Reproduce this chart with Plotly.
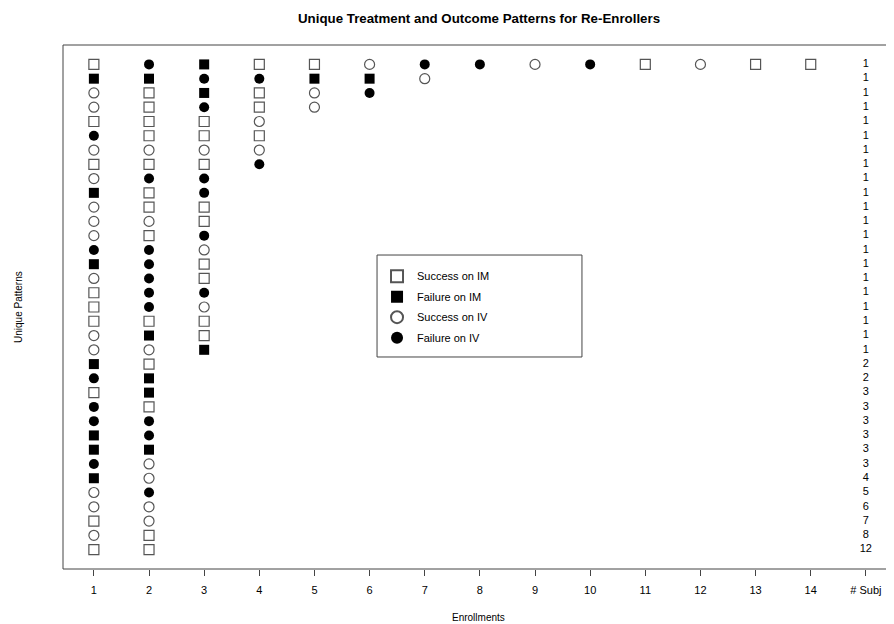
import plotly.graph_objects as go

# Codes: SIM = Success on IM, FIM = Failure on IM, SIV = Success on IV, FIV = Failure on IV
patterns = [
    ["SIM", "FIV", "FIM", "SIM", "SIM", "SIV", "FIV", "FIV", "SIV", "FIV", "SIM", "SIV", "SIM", "SIM"],
    ["FIM", "FIM", "FIV", "FIV", "FIM", "FIM", "SIV"],
    ["SIV", "SIM", "FIM", "SIM", "SIV", "FIV"],
    ["SIV", "SIM", "FIV", "SIM", "SIV"],
    ["SIM", "SIM", "SIM", "SIV"],
    ["FIV", "SIM", "SIM", "SIM"],
    ["SIV", "SIV", "SIV", "SIV"],
    ["SIM", "SIM", "SIM", "FIV"],
    ["SIV", "FIV", "FIV"],
    ["FIM", "SIM", "FIV"],
    ["SIV", "SIM", "SIM"],
    ["SIV", "SIV", "SIM"],
    ["SIV", "SIM", "FIV"],
    ["FIV", "FIV", "SIV"],
    ["FIM", "FIV", "SIM"],
    ["SIV", "FIV", "SIM"],
    ["SIM", "FIV", "FIV"],
    ["SIM", "FIV", "SIV"],
    ["SIM", "SIM", "SIM"],
    ["SIV", "FIM", "SIM"],
    ["SIV", "SIV", "FIM"],
    ["FIM", "SIM"],
    ["FIV", "FIM"],
    ["SIM", "FIM"],
    ["FIV", "SIM"],
    ["FIV", "FIV"],
    ["FIM", "FIV"],
    ["FIM", "FIM"],
    ["FIV", "SIV"],
    ["FIM", "SIV"],
    ["SIV", "FIV"],
    ["SIV", "SIV"],
    ["SIM", "SIV"],
    ["SIV", "SIM"],
    ["SIM", "SIM"],
]
n_subj = [1] * 21 + [2, 2, 3, 3, 3, 3, 3, 3, 4, 5, 6, 7, 8, 12]

tick_vals = list(range(1, 16))
tick_text = [str(i) for i in range(1, 15)] + ["# Subj"]

categories = ["SIM", "FIM", "SIV", "FIV"]
cat_names = {"SIM": "Success on IM", "FIM": "Failure on IM",
             "SIV": "Success on IV", "FIV": "Failure on IV"}
cat_symbol = {"SIM": "square-open", "FIM": "square", "SIV": "circle-open", "FIV": "circle"}

fig = go.Figure()
for cat in categories:
    xs, ys = [], []
    for r, pat in enumerate(patterns, start=1):
        for e, code in enumerate(pat, start=1):
            if code == cat:
                xs.append(e)
                ys.append(r)
    is_open = cat.startswith("S")
    fig.add_trace(go.Scatter(
        x=xs, y=ys, mode="markers", name=cat_names[cat], legendgroup=cat,
        marker=dict(symbol=cat_symbol[cat], size=10,
                    color="#555555" if is_open else "black",
                    line=dict(width=1.2 if is_open else 0, color="#555555" if is_open else "black")),
        hoverinfo="skip",
    ))

fig.add_trace(go.Scatter(
    x=[15] * len(n_subj), y=list(range(1, len(n_subj) + 1)),
    text=[str(v) for v in n_subj], mode="text", showlegend=False,
    textfont=dict(size=11, color="black"), hoverinfo="skip",
))

frame = dict(color="#444444", width=1)
shapes = [
    dict(type="line", xref="paper", yref="paper", x0=0, x1=1, y0=0, y1=0, line=frame),
    dict(type="line", xref="paper", yref="paper", x0=0, x1=1, y0=1, y1=1, line=frame),
    dict(type="line", xref="paper", yref="paper", x0=0, x1=0, y0=0, y1=1, line=frame),
    dict(type="rect", xref="paper", yref="paper", x0=0.3779, x1=0.6245, y0=0.4046, y1=0.5992,
         line=frame, fillcolor="rgba(0,0,0,0)"),
]

fig.update_layout(
    width=886, height=616,
    margin=dict(l=55, r=0, t=37, b=55),
    paper_bgcolor="white", plot_bgcolor="white",
    font=dict(family="Liberation Sans, Arial, sans-serif", size=11, color="black"),
    showlegend=True,
    legend=dict(x=0.3779, xanchor="left", y=0.5865, yanchor="top",
                bgcolor="rgba(0,0,0,0)", borderwidth=0, font=dict(size=11),
                itemsizing="constant", tracegroupgap=1.5),
    xaxis=dict(range=[0.44, 15.51], tickvals=tick_vals, ticktext=tick_text,
               ticks="outside", ticklen=6, tickcolor="#444444", showgrid=False,
               zeroline=False, showline=False, tickfont=dict(size=11),
               ticklabelstandoff=5),
    yaxis=dict(range=[36.36, -0.36], showticklabels=False, ticks="", showgrid=False,
               zeroline=False, showline=False),
    shapes=shapes,
    annotations=[
        dict(text="<b>Unique Treatment and Outcome Patterns for Re-Enrollers</b>",
             xref="paper", yref="paper", x=0.5, y=1, yshift=27, yanchor="middle",
             xanchor="center", showarrow=False, font=dict(size=13.3)),
        dict(text="Enrollments", xref="paper", yref="paper", x=0.5, y=0, yshift=-48,
             yanchor="middle", xanchor="center", showarrow=False, font=dict(size=10)),
        dict(text="Unique Patterns", xref="paper", yref="paper", x=0, y=0.5, xshift=-45,
             xanchor="center", yanchor="middle", textangle=-90, showarrow=False,
             font=dict(size=10)),
    ],
)

fig.write_html("out.html")
